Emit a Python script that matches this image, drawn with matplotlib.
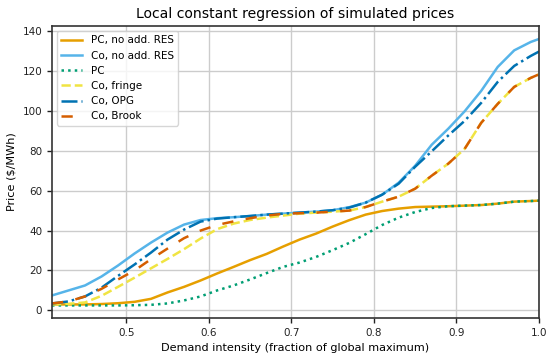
import matplotlib
matplotlib.use("Agg")
import matplotlib.pyplot as plt

# Demand intensity grid (fraction of global maximum)
demand = [0.41, 0.43, 0.45, 0.47, 0.49, 0.51, 0.53, 0.55, 0.57, 0.59,
          0.61, 0.63, 0.65, 0.67, 0.69, 0.71, 0.73, 0.75, 0.77, 0.79,
          0.81, 0.83, 0.85, 0.87, 0.89, 0.91, 0.93, 0.95, 0.97, 0.99, 1.00]

# Smoothed prices ($/MWh) for each scenario
pc_no_res = [3.0, 3.0, 3.0, 3.2, 3.6, 4.3, 5.8, 9.0, 11.8, 15.0,
             18.5, 21.8, 25.2, 28.3, 32.0, 35.5, 38.5, 42.0, 45.2, 48.0,
             49.8, 51.0, 51.8, 52.0, 52.2, 52.5, 52.8, 53.5, 54.5, 54.8, 55.0]
co_no_res = [7.5, 10.0, 12.5, 17.0, 22.5, 28.5, 34.0, 39.0, 43.0, 45.3,
             46.2, 46.7, 47.3, 48.0, 48.5, 49.0, 49.5, 50.2, 51.7, 54.0,
             58.0, 64.0, 72.5, 83.0, 91.0, 99.8, 110.0, 122.0, 130.3, 134.5, 136.0]
pc = [2.5, 2.5, 2.5, 2.5, 2.5, 2.6, 2.8, 3.5, 5.0, 7.0,
      10.0, 12.5, 15.5, 18.7, 21.8, 24.0, 26.8, 30.2, 33.8, 38.2,
      42.8, 46.5, 49.3, 51.3, 52.2, 52.5, 52.8, 53.5, 54.5, 54.8, 55.0]
co_fringe = [3.0, 3.3, 4.0, 7.3, 11.8, 16.4, 21.1, 25.8, 30.7, 36.0,
             40.7, 43.5, 45.3, 46.5, 47.5, 48.5, 49.0, 49.5, 50.0, 51.8,
             54.5, 57.0, 61.0, 67.5, 73.5, 81.0, 94.0, 103.5, 112.0, 116.5, 118.3]
co_opg = [3.5, 4.5, 7.0, 11.4, 17.3, 23.0, 29.0, 35.5, 40.5, 44.5,
          46.0, 46.7, 47.3, 48.0, 48.5, 49.0, 49.5, 50.2, 51.5, 54.0,
          58.0, 63.5, 72.0, 79.7, 87.6, 95.0, 104.0, 114.5, 122.5, 127.5, 129.7]
co_brook = [3.5, 4.5, 7.0, 10.8, 15.5, 20.0, 25.7, 31.0, 36.2, 40.0,
            42.8, 44.6, 46.2, 47.5, 48.4, 48.7, 49.0, 49.5, 50.0, 51.8,
            54.5, 57.0, 61.0, 67.5, 73.5, 81.0, 94.0, 103.5, 112.0, 116.5, 118.3]

labels = ["PC, no add. RES", "Co, no add. RES", "PC", "Co, fringe", "Co, OPG", "Co, Brook"]
colors = ["#E69F00", "#56B4E9", "#009E73", "#F0E442", "#0072B2", "#D55E00"]

fig = plt.figure(figsize=(5.48, 3.55), dpi=100)
ax = fig.add_axes([52 / 548, 1 - 318 / 355, (539 - 52) / 548, (318 - 26) / 355])

lw = 1.8
ax.plot(demand, pc_no_res, color=colors[0], lw=lw, ls="-", label=labels[0])
ax.plot(demand, co_no_res, color=colors[1], lw=lw, ls="-", label=labels[1])
ax.plot(demand, pc, color=colors[2], lw=lw, ls=":", label=labels[2])
ax.plot(demand, co_fringe, color=colors[3], lw=lw, ls="--", label=labels[3])
ax.plot(demand, co_opg, color=colors[4], lw=lw, ls="-.", label=labels[4])
ax.plot(demand, co_brook, color=colors[5], lw=lw, dashes=(4.5, 5), label=labels[5])

ax.set_xlim(0.41, 1.0)
ax.set_ylim(-3.8, 142.5)
ax.set_xticks([0.5, 0.6, 0.7, 0.8, 0.9, 1.0])
ax.set_yticks([0, 20, 40, 60, 80, 100, 120, 140])

ax.grid(True, color="#cccccc", lw=1.0)
ax.set_axisbelow(True)
for s in ax.spines.values():
    s.set_color("#333333")
    s.set_linewidth(1.2)
ax.tick_params(axis="both", labelsize=7.5, colors="#222222", length=3.5, width=1.0,
               direction="out")

ax.set_xlabel("Demand intensity (fraction of global maximum)", fontsize=8.1)
ax.set_ylabel(r"Price (\$/MWh)", fontsize=8.1)
ax.set_title("Local constant regression of simulated prices", fontsize=10.1)

leg = ax.legend(loc="upper left", fontsize=7.5, frameon=True, framealpha=0.8,
                edgecolor="#cccccc", fancybox=True)

fig.savefig("out.png", dpi=100)
